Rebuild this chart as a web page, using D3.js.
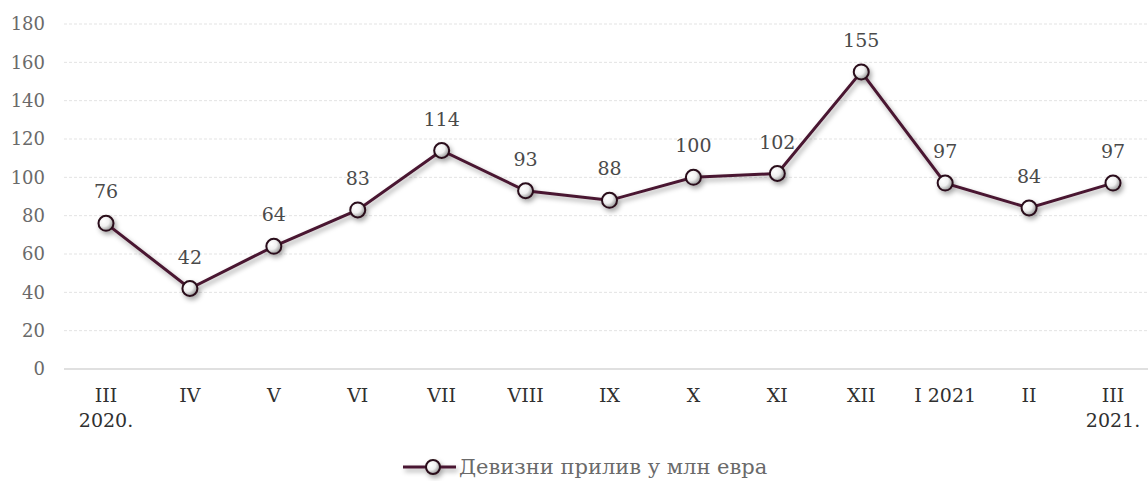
<!DOCTYPE html>
<html><head><meta charset="utf-8">
<script src="https://cdn.jsdelivr.net/npm/d3@7"></script>
<style>body{margin:0;background:#fff}svg{display:block}</style>
</head><body><svg id="c" width="1148" height="484"></svg>
<script>
const categories = ["III\n2020.","IV","V","VI","VII","VIII","IX","X","XI","XII","I 2021","II","III\n2021."];
const values = [76,42,64,83,114,93,88,100,102,155,97,84,97];
const yTicks = [0,20,40,60,80,100,120,140,160,180];
const seriesName = "Девизни прилив у млн евра";

const svg = d3.select("#c");
const font = "'DejaVu Serif', 'Liberation Serif', serif";
const x = d3.scalePoint().domain(categories).range([106,1113]);
const y = d3.scaleLinear().domain([0,180]).range([369,24]);
const defs = svg.append("defs");
const g = defs.append("radialGradient").attr("id","mk").attr("cx","35%").attr("cy","35%").attr("r","70%");
g.append("stop").attr("offset","0%").attr("stop-color","#ffffff");
g.append("stop").attr("offset","50%").attr("stop-color","#f0f0f0");
g.append("stop").attr("offset","100%").attr("stop-color","#8f8f8f");
const f = defs.append("filter").attr("id","sh").attr("x","-50%").attr("y","-50%").attr("width","200%").attr("height","200%");
f.append("feDropShadow").attr("dx",2).attr("dy",3).attr("stdDeviation",2.5).attr("flood-color","#000").attr("flood-opacity",0.35);

// grid
svg.append("g").selectAll("line").data(yTicks.filter(d=>d>0)).join("line")
  .attr("x1",64).attr("x2",1148).attr("y1",d=>y(d)).attr("y2",d=>y(d))
  .attr("stroke","#e3e3e3").attr("stroke-width",1).attr("stroke-dasharray","3,2");
svg.append("line").attr("x1",64).attr("x2",1148).attr("y1",y(0)).attr("y2",y(0)).attr("stroke","#d6d6d6").attr("stroke-width",1.5);

svg.append("g").selectAll("text").data(yTicks).join("text")
  .attr("x",45).attr("y",d=>y(d)).attr("dy","0.35em").attr("text-anchor","end")
  .attr("font-family",font).attr("font-size",18).attr("fill","#6a6a6a").text(d=>d);

const xl = svg.append("g").selectAll("text").data(categories).join("text")
  .attr("x",d=>x(d)).attr("y",402).attr("text-anchor","middle")
  .attr("font-family",font).attr("font-size",19).attr("fill","#303030");
xl.each(function(d){
  const t=d3.select(this); d.split("\n").forEach((s,i)=>t.append("tspan").attr("x",x(d)).attr("dy",i?25:0).text(s));
});

const pts = categories.map((c,i)=>({c,v:values[i]}));
const plot = svg.append("g").attr("filter","url(#sh)");
plot.append("path").datum(pts).attr("fill","none").attr("stroke","#4a1830").attr("stroke-width",3)
  .attr("d",d3.line().x(d=>x(d.c)).y(d=>y(d.v)));
plot.selectAll("circle").data(pts).join("circle").attr("cx",d=>x(d.c)).attr("cy",d=>y(d.v)).attr("r",7.5)
  .attr("fill","url(#mk)").attr("stroke","#2a0d1a").attr("stroke-width",2);

svg.append("g").selectAll("text").data(pts).join("text")
  .attr("x",d=>x(d.c)).attr("y",d=>y(d.v)-25).attr("text-anchor","middle")
  .attr("font-family",font).attr("font-size",19).attr("fill","#4a4a4a").text(d=>d.v);

// legend
const lg = svg.append("g");
const lgs = lg.append("g").attr("filter","url(#sh)");
lgs.append("line").attr("x1",403).attr("x2",456).attr("y1",467).attr("y2",467).attr("stroke","#4a1830").attr("stroke-width",3);
lgs.append("circle").attr("cx",433).attr("cy",467).attr("r",7).attr("fill","url(#mk)").attr("stroke","#2a0d1a").attr("stroke-width",2);
lg.append("text").attr("x",459).attr("y",467).attr("dy","0.35em").attr("font-family",font).attr("font-size",21).attr("fill","#6a6a6a").text(seriesName);
</script></body></html>
